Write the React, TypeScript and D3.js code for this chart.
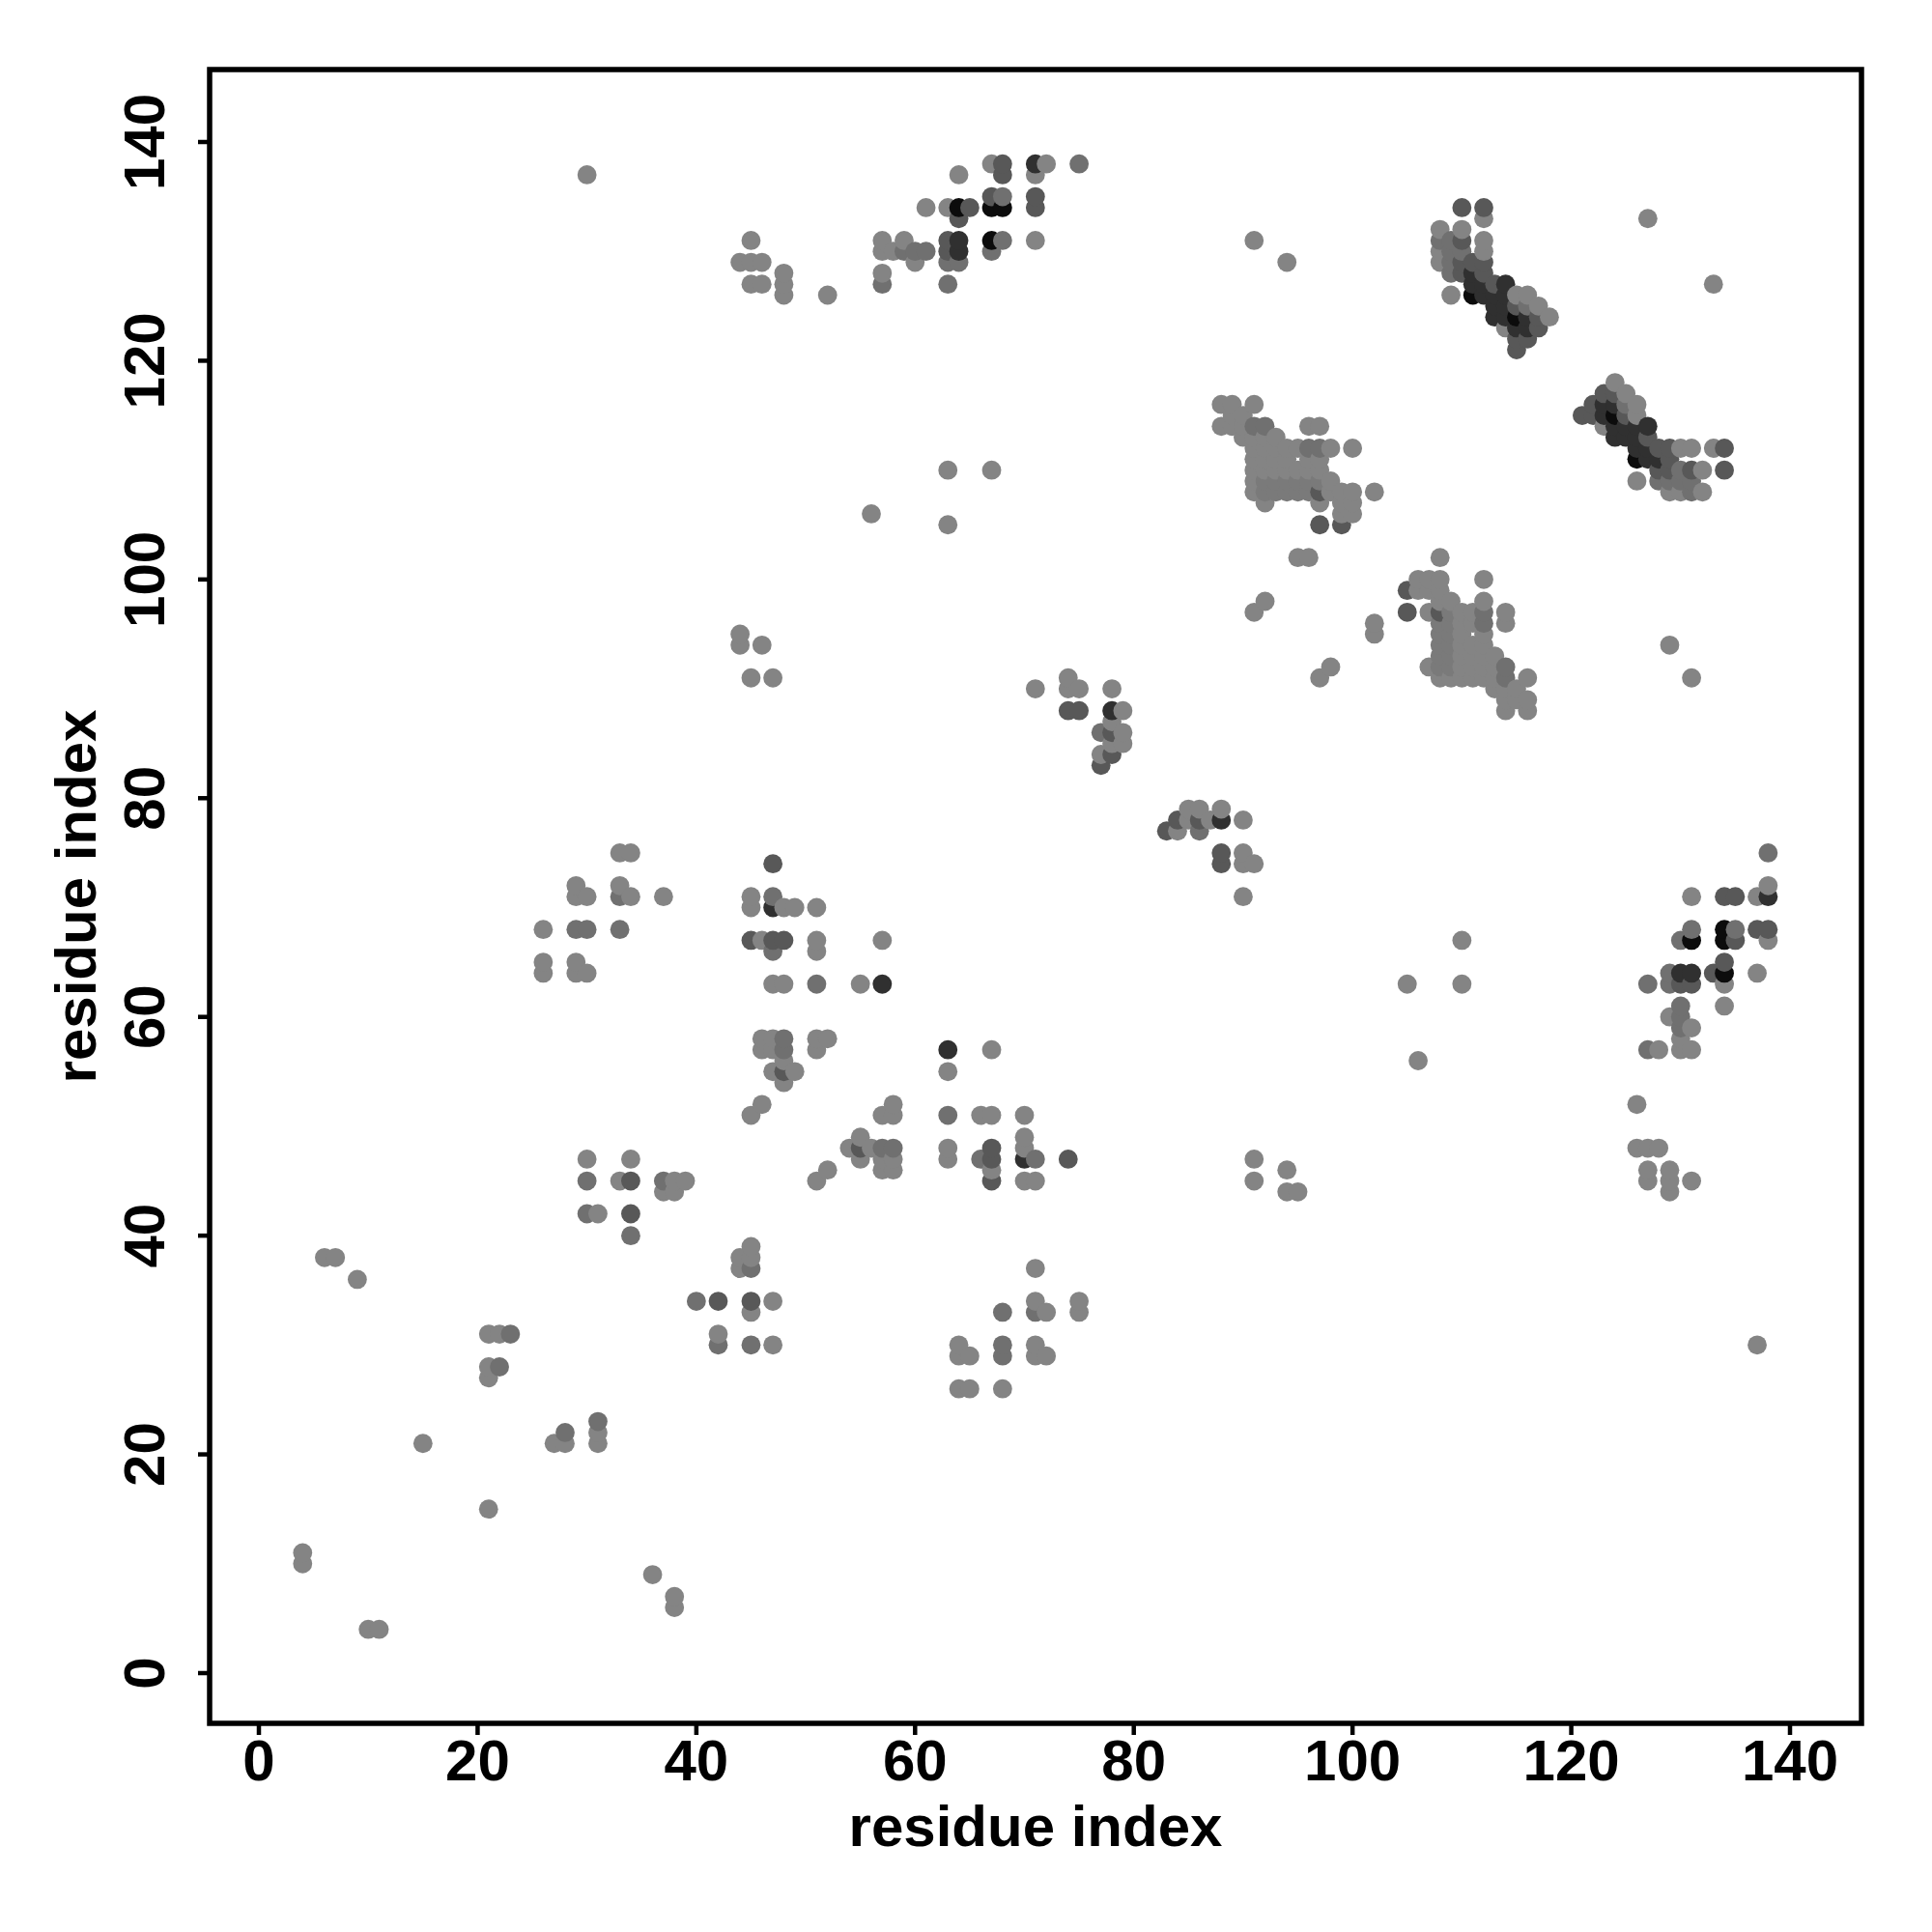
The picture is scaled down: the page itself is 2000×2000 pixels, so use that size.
import React from "react";
import * as d3 from "d3";

// Contact pairs [i, j] with i < j; the matrix is symmetric and is drawn on both sides of the diagonal.
const lightContacts = [
  [4,10],[4,11],[6,38],[7,38],[9,36],[15,21],[21,27],[21,28],[21,31],[22,31],
  [26,64],[26,65],[26,68],[29,64],[29,65],[29,71],[29,72],[30,64],[30,71],[33,45],[33,72],[33,75],[34,71],[34,75],[37,71],
  [30,137],[31,42],[30,47],[34,47],[37,44],[38,44],[38,45],[39,45],
  [44,94],[44,95],[45,91],[46,94],[47,91],[44,129],[45,129],[46,129],[45,127],[46,127],[45,131],[48,126],[48,127],[48,128],[52,126],
  [45,70],[45,71],[46,67],[48,70],[49,70],[51,70],[51,67],[51,66],[47,63],[48,63],[55,63],[57,67],
  [46,57],[46,58],[47,57],[47,58],[48,54],[48,56],[47,55],[49,55],[51,57],[51,58],[52,58],[45,51],[46,52],
  [57,128],[57,130],[57,131],[58,130],[59,131],[60,129],[61,134],[63,134],[64,137],[67,138],[71,131],[71,137],[72,138],
  [56,106],[63,105],[63,110],[67,110],
  [71,90],[74,90],[74,91],[75,90],[78,90],[79,88],[78,87],[79,86],[78,85],[79,85],[77,84],
  [91,97],[92,98],[95,102],[96,102],[91,131],[94,129],[127,133],
  [88,114],[89,114],[90,114],[88,116],[89,116],[91,116],[89,115],[90,115],[90,113],[91,113],[92,113],[93,113],
  [91,112],[92,112],[93,112],[94,112],[95,112],[98,112],[100,112],[91,111],[92,111],[93,111],[94,111],[96,111],[97,111],
  [91,110],[92,110],[93,110],[94,110],[95,110],[96,110],[97,110],[91,109],[98,109],[91,108],[98,108],[99,108],[100,108],[102,108],
  [92,107],[97,107],[99,107],[100,107],[99,106],[100,106],[96,114],[97,114],
  [112,133],[108,132],[110,132],[112,131],[108,130],[112,130],[108,129],[109,126],[115,126],[116,126],[117,125],[118,124],[114,123],
];
const softContacts = [
  [92,109],[93,109],[94,109],[95,109],[96,109],[97,109],[92,108],[93,108],[94,108],[95,108],[96,108],
];
const midContacts = [
  [22,28],[23,31],[29,68],[30,68],[33,68],[33,71],[30,42],[30,45],[34,40],[37,45],
  [47,66],[47,71],[51,63],[48,57],[48,58],
  [57,127],[59,130],[60,130],[61,130],[63,127],[63,129],[64,129],[67,130],[68,131],[68,135],[75,138],
  [77,86],[91,114],[92,114],[96,112],[97,112],
  [108,131],[109,131],[109,130],[110,130],[109,129],[109,128],[116,125],
];
const darkContacts = [
  [34,42],[34,45],[45,67],[47,67],[48,67],[47,74],[48,55],
  [63,130],[63,131],[64,133],[65,134],[67,135],[68,137],[68,138],[71,134],[71,135],
  [74,88],[75,88],[78,86],[78,84],[77,83],[97,105],[99,105],[97,108],
  [110,134],[112,134],[110,131],[110,129],[111,129],[112,129],[110,128],[112,128],[113,127],
  [115,125],[117,124],[117,123],[115,122],[116,122],[115,121],
];
const deepContacts = [
  [47,70],[57,63],[64,130],[64,131],[71,138],[78,88],
  [111,128],[111,127],[112,127],[114,127],[112,126],[113,126],[114,126],
  [113,125],[114,125],[113,124],[114,124],[116,124],[115,123],[116,123],
];
const blackContacts = [
  [64,134],[67,131],[67,134],[68,134],[111,126],[115,124],
];

const shadeGroups: [number[][], string][] = [
  [lightContacts, "#848484"],
  [softContacts, "#7a7a7a"],
  [midContacts, "#707070"],
  [darkContacts, "#585858"],
  [deepContacts, "#303030"],
  [blackContacts, "#0c0c0c"],
];

const tickValues = [0, 20, 40, 60, 80, 100, 120, 140];
const axisTitle = "residue index";
const FONT = "'Liberation Sans', Arial, sans-serif";

export default function App() {
  const x = d3.scaleLinear().domain([0, 140]).range([268, 1853]);
  const y = d3.scaleLinear().domain([0, 140]).range([1732, 147]);
  const frame = { left: 217, right: 1927, top: 72, bottom: 1784 };

  const seen = new Map<string, { a: number; b: number; fill: string }>();
  shadeGroups.forEach(([list, fill]) => {
    list.forEach(([i, j]) => {
      seen.set(`${i}-${j}`, { a: i, b: j, fill });
      seen.set(`${j}-${i}`, { a: j, b: i, fill });
    });
  });
  const points = Array.from(seen.values()).sort((p, q) => d3.ascending(p.a, q.a) || d3.ascending(p.b, q.b));

  return (
    <svg width={2000} height={2000} style={{ position: "absolute", left: 0, top: 0, background: "#fff" }}>
      {points.map((p) => (
        <circle key={`${p.a}-${p.b}`} cx={x(p.a)} cy={y(p.b)} r={9.9} fill={p.fill} />
      ))}
      <rect x={frame.left} y={frame.top} width={frame.right - frame.left} height={frame.bottom - frame.top} fill="none" stroke="#000" strokeWidth={5.5} />
      {tickValues.map((t) => (
        <g key={t}>
          <line x1={x(t)} x2={x(t)} y1={frame.bottom} y2={frame.bottom + 12} stroke="#000" strokeWidth={4.5} />
          <text x={x(t)} y={1843} textAnchor="middle" fontFamily={FONT} fontWeight="bold" fontSize={60} fill="#000">{t}</text>
          <line x1={frame.left - 12} x2={frame.left} y1={y(t)} y2={y(t)} stroke="#000" strokeWidth={4.5} />
          <text transform={`translate(170,${y(t)}) rotate(-90)`} textAnchor="middle" fontFamily={FONT} fontWeight="bold" fontSize={60} fill="#000">{t}</text>
        </g>
      ))}
      <text x={1072} y={1911} textAnchor="middle" fontFamily={FONT} fontWeight="bold" fontSize={60} fill="#000">{axisTitle}</text>
      <text transform={`translate(99,928) rotate(-90)`} textAnchor="middle" fontFamily={FONT} fontWeight="bold" fontSize={60} fill="#000">{axisTitle}</text>
    </svg>
  );
}
